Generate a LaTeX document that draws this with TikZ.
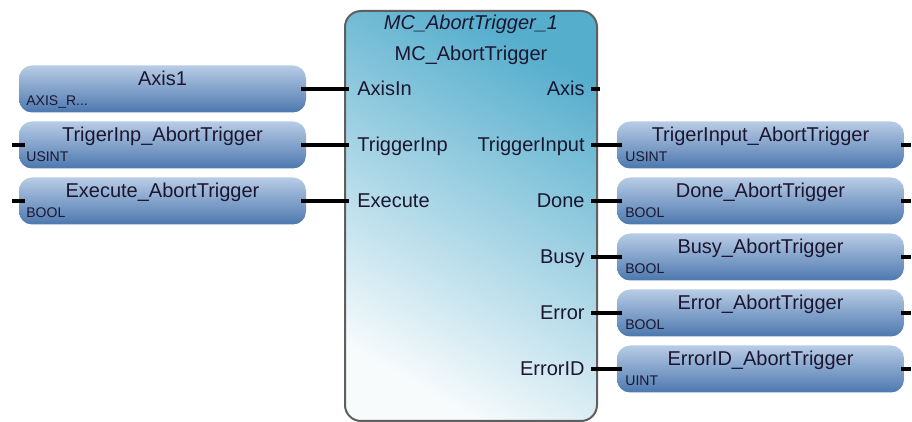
\documentclass[tikz,border=0pt]{standalone}
\usepackage{fontspec}
\setmainfont{Liberation Sans}
\usepackage{xcolor}
\usetikzlibrary{positioning}

\definecolor{varTop}{RGB}{184,204,230}
\definecolor{varBot}{RGB}{76,120,174}
\definecolor{fbTop}{RGB}{86,174,205}
\definecolor{fbBot}{RGB}{248,251,252}
\definecolor{fbLine}{RGB}{95,95,95}
\definecolor{txt}{RGB}{28,22,48}

\begin{document}
\begin{tikzpicture}[x=0.5pt, y=-0.5pt,
  var/.style={rectangle, rounded corners=6.5pt, minimum width=143.5pt, minimum height=23.5pt, inner sep=0pt, top color=varTop, bottom color=varBot},
  vname/.style={anchor=base, inner sep=0pt, text=txt, font=\fontsize{10}{12}\selectfont},
  vtype/.style={anchor=base west, inner sep=0pt, text=txt, font=\fontsize{7}{8}\selectfont},
  pinlbl/.style={inner sep=0pt, text=txt, font=\fontsize{10}{12}\selectfont},
  wire/.style={line width=2.2pt, black},
  stub/.style={line width=2pt, black}]
\useasboundingbox (0,0) rectangle (912,422);

% function block
\node[draw=fbLine, line width=1pt, rounded corners=8pt, minimum width=126pt, minimum height=205pt, inner sep=0pt,
  top color=fbTop, bottom color=fbBot, shading angle=-30] (fb) at (471,216) {};
\node[vname, font=\itshape\fontsize{10}{12}\selectfont] (fbInst) at (471,30) {MC\_AbortTrigger\_1};
\node[vname] (fbType) at (471,61) {MC\_AbortTrigger};

% inputs
\node[pinlbl, anchor=base west] (pAxisIn) at (357,96) {AxisIn};
\node[pinlbl, anchor=base west] (pTrigInp) at (357,152) {TriggerInp};
\node[pinlbl, anchor=base west] (pExec) at (357,208) {Execute};
\node[pinlbl, anchor=base east] (pAxis) at (585,96) {Axis};

\node[var] (vAxis) at (162.5,89) {};
\node[vname] (vAxisName) at (162.5,85.5) {Axis1};
\node[vtype] (vAxisType) at (26,106) {AXIS\_R...};

\node[var] (vTrig) at (162.5,145) {};
\node[vname] (vTrigName) at (162.5,141.5) {TrigerInp\_AbortTrigger};
\node[vtype] (vTrigType) at (26,162) {USINT};

\node[var] (vExec) at (162.5,201) {};
\node[vname] (vExecName) at (162.5,197.5) {Execute\_AbortTrigger};
\node[vtype] (vExecType) at (26,218) {BOOL};

\draw[wire] ([xshift=-2.5pt]vAxis.east) -- ([xshift=2.5pt]fb.west |- vAxis.east);
\draw[wire] ([xshift=-2.5pt]vTrig.east) -- ([xshift=2.5pt]fb.west |- vTrig.east);
\draw[wire] ([xshift=-2.5pt]vExec.east) -- ([xshift=2.5pt]fb.west |- vExec.east);
\draw[stub] ([xshift=3pt]vTrig.west) -- ++(-13,0);
\draw[stub] ([xshift=3pt]vExec.west) -- ++(-13,0);
\draw[stub] ([xshift=-3.5pt]fb.east |- vAxis.east) -- ++(9,0);

% outputs
\foreach \id/\pin/\vn/\vt/\row in {Trig/TriggerInput/TrigerInput\_AbortTrigger/USINT/145,
    Done/Done/Done\_AbortTrigger/BOOL/201, Busy/Busy/Busy\_AbortTrigger/BOOL/257,
    Err/Error/Error\_AbortTrigger/BOOL/313, ErrId/ErrorID/ErrorID\_AbortTrigger/UINT/369} {
  \node[pinlbl, anchor=base east] (p\id) at (585,\row+7) {\pin};
  \node[var] (o\id) at (760.5,\row) {};
  \node[vname] (o\id Name) at (760.5,\row-3.5) {\vn};
  \node[vtype] (o\id Type) at (625,\row+17) {\vt};
  \draw[wire] ([xshift=-3.5pt]fb.east |- o\id.west) -- ([xshift=2.5pt]o\id.west);
  \draw[stub] ([xshift=-1.5pt]o\id.east) -- ++(10,0);
}
\end{tikzpicture}
\end{document}
